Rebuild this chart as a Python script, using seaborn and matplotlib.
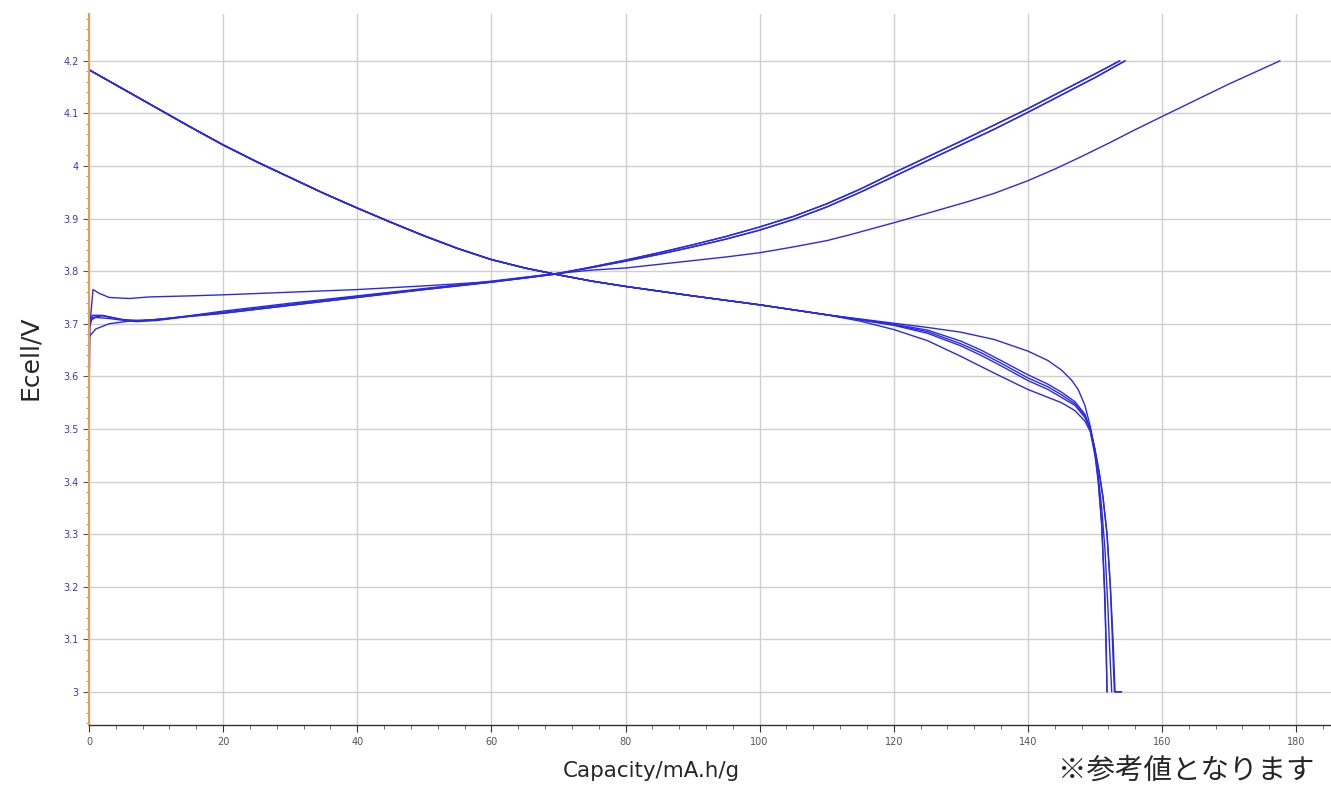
import pandas as pd
import numpy as np
import matplotlib
matplotlib.use('Agg')
import matplotlib.pyplot as plt
import seaborn as sns

# --- discharge curves (capacity mA.h/g, voltage V) ---
# shared part of all discharge curves
dis_common_cap = [0, 5, 10, 15, 20, 25, 30, 35, 40, 45, 50, 55, 60, 65, 70, 75, 80, 90, 100, 110]
dis_common_v = [4.183, 4.147, 4.111, 4.075, 4.040, 4.008, 3.978, 3.948, 3.920, 3.893, 3.867,
                3.843, 3.822, 3.806, 3.793, 3.781, 3.771, 3.753, 3.736, 3.717]

dis1_cap = [115, 120, 125, 130, 135, 140, 143, 145, 146.5, 147.5, 148.5, 149.3, 150, 150.5, 151, 151.4, 151.7, 151.8]
dis1_v = [3.709, 3.701, 3.693, 3.684, 3.670, 3.648, 3.630, 3.612, 3.593, 3.575, 3.545, 3.505, 3.46, 3.40, 3.32, 3.20, 3.08, 3.0]

dis2_cap = [115, 120, 125, 130, 133, 136, 140, 143, 145, 147, 148.5, 149.3, 150, 150.6, 151.2, 151.8, 152.3, 152.6, 152.9, 153.9]
dis2_v = [3.708, 3.698, 3.685, 3.662, 3.645, 3.625, 3.597, 3.580, 3.565, 3.548, 3.525, 3.50, 3.46, 3.42, 3.37, 3.30, 3.20, 3.10, 3.0, 3.0]

dis3_cap = [115, 120, 125, 130, 133, 136, 140, 143, 145, 147, 148.5, 149.3, 150, 150.6, 151.2, 151.8, 152.3, 152.7, 153.0, 154.0]
dis3_v = [3.708, 3.699, 3.688, 3.667, 3.650, 3.630, 3.603, 3.585, 3.570, 3.552, 3.528, 3.50, 3.462, 3.42, 3.37, 3.30, 3.20, 3.10, 3.0, 3.0]

dis4_cap = [115, 120, 125, 130, 133, 136, 140, 143, 145, 147, 148.5, 149.3, 150, 150.5, 151, 151.5, 151.9, 152.2, 152.5]
dis4_v = [3.707, 3.697, 3.682, 3.658, 3.640, 3.620, 3.592, 3.575, 3.560, 3.545, 3.522, 3.50, 3.455, 3.41, 3.35, 3.27, 3.17, 3.08, 3.0]

dis5_cap = [115, 120, 125, 130, 135, 140, 143, 145, 147, 148.5, 149.3, 150, 150.5, 151, 151.5, 151.8]
dis5_v = [3.705, 3.689, 3.668, 3.638, 3.606, 3.575, 3.560, 3.550, 3.535, 3.515, 3.495, 3.45, 3.40, 3.32, 3.18, 3.0]

# --- charge curves ---
chg1_cap = [0, 0.15, 0.6, 1.5, 3, 6, 9, 15, 20, 30, 40, 50, 60, 65, 70, 75, 80, 85, 90, 95, 100,
            105, 110, 113.4, 120, 125, 131, 135, 140, 144, 148, 152, 156, 160, 165, 170, 177.6]
chg1_v = [3.55, 3.70, 3.765, 3.758, 3.750, 3.748, 3.751, 3.753, 3.755, 3.760, 3.765, 3.772, 3.780,
          3.787, 3.796, 3.802, 3.806, 3.813, 3.820, 3.827, 3.835, 3.846, 3.858, 3.869, 3.892,
          3.910, 3.932, 3.948, 3.972, 3.994, 4.018, 4.043, 4.069, 4.094, 4.125, 4.156, 4.200]

chg_top_cap = [75, 80, 85, 90, 95, 100, 105, 110, 115, 120, 125, 130, 135, 140, 145, 150]
chg2_v = [3.807, 3.819, 3.832, 3.846, 3.861, 3.878, 3.898, 3.922, 3.950, 3.980, 4.010, 4.040, 4.070, 4.102, 4.135, 4.168]
chg3_v = [3.808, 3.821, 3.835, 3.850, 3.866, 3.884, 3.904, 3.928, 3.956, 3.987, 4.017, 4.047, 4.078, 4.109, 4.142, 4.175]

chg2_start_cap = [0, 0.5, 2, 4, 7, 10, 15, 20, 30, 40, 50, 60, 70]
chg2_start_v = [3.69, 3.712, 3.715, 3.710, 3.704, 3.706, 3.714, 3.720, 3.735, 3.750, 3.765, 3.779, 3.795]
chg3_start_cap = [0, 0.5, 2, 5, 8, 12, 20, 30, 40, 50, 60, 70]
chg3_start_v = [3.70, 3.716, 3.716, 3.708, 3.706, 3.710, 3.724, 3.739, 3.753, 3.767, 3.781, 3.796]
chg4_start_cap = [0, 1, 3, 6, 10, 20, 30, 40, 50, 60, 70]
chg4_start_v = [3.705, 3.712, 3.710, 3.705, 3.708, 3.722, 3.737, 3.752, 3.766, 3.780, 3.796]
chg5_start_cap = [0, 1, 3, 6, 10, 20, 30, 40, 50, 60, 70]
chg5_start_v = [3.675, 3.690, 3.700, 3.705, 3.708, 3.720, 3.735, 3.750, 3.765, 3.779, 3.795]

chg2_end_cap, chg2_end_v = [154.5], [4.2]
chg3_end_cap, chg3_end_v = [153.7], [4.2]

xticks = [0, 20, 40, 60, 80, 100, 120, 140, 160, 180]
yticks = [3.0, 3.1, 3.2, 3.3, 3.4, 3.5, 3.6, 3.7, 3.8, 3.9, 4.0, 4.1, 4.2]
ytick_labels = ['3', '3.1', '3.2', '3.3', '3.4', '3.5', '3.6', '3.7', '3.8', '3.9', '4', '4.1', '4.2']

# build a long table
curves = {
    'd1': (dis_common_cap + dis1_cap, dis_common_v + dis1_v),
    'd2': (dis_common_cap + dis2_cap, dis_common_v + dis2_v),
    'd3': (dis_common_cap + dis3_cap, dis_common_v + dis3_v),
    'd4': (dis_common_cap + dis4_cap, dis_common_v + dis4_v),
    'd5': (dis_common_cap + dis5_cap, dis_common_v + dis5_v),
    'c1': (chg1_cap, chg1_v),
    'c2': (chg2_start_cap + chg_top_cap + chg2_end_cap, chg2_start_v + chg2_v + chg2_end_v),
    'c3': (chg3_start_cap + chg_top_cap + chg3_end_cap, chg3_start_v + chg3_v + chg3_end_v),
    'c4': (chg4_start_cap + chg_top_cap + chg2_end_cap, chg4_start_v + chg2_v + chg2_end_v),
    'c5': (chg5_start_cap + chg_top_cap + chg3_end_cap, chg5_start_v + chg3_v + chg3_end_v),
}
rows = []
for name, (cx, cy) in curves.items():
    for a, b in zip(cx, cy):
        rows.append((name, a, b))
df = pd.DataFrame(rows, columns=['curve', 'cap', 'volt'])

sns.set_style('white')
plt.rcParams['font.family'] = ['DejaVu Sans', 'Noto Sans CJK JP']

fig = plt.figure(figsize=(13.31, 7.85), dpi=100)
ax = fig.add_axes([89 / 1331, 1 - 725 / 785, (1331 - 89) / 1331, (725 - 14) / 785])

sns.lineplot(data=df, x='cap', y='volt', units='curve', estimator=None, sort=False,
             color='#2a2ae6', linewidth=1.0, ax=ax)

ax.set_xlim(0, 185.2)
ax.set_ylim(2.937, 4.289)
ax.set_xticks(xticks)
ax.set_xticks(np.arange(0, 185, 4), minor=True)
ax.set_yticks(yticks)
ax.set_yticklabels(ytick_labels)
ax.set_yticks(np.arange(2.94, 4.29, 0.02), minor=True)
ax.grid(True, which='major', color='#cfcfcf', linewidth=1.0)
ax.set_axisbelow(True)

ax.tick_params(axis='x', which='major', labelsize=7, labelcolor='#555555', length=5, color='#333333', direction='out')
ax.tick_params(axis='x', which='minor', length=3, color='#555555', direction='out')
ax.tick_params(axis='y', which='major', labelsize=7, labelcolor='#3a3ab8', length=4, color='#555555', direction='out')
ax.tick_params(axis='y', which='minor', length=2, color='#888888', direction='out')
ax.xaxis.set_tick_params(which='both', bottom=True)
ax.yaxis.set_tick_params(which='both', left=True)

for s in ['top', 'right']:
    ax.spines[s].set_visible(False)
ax.spines['left'].set_color('#e0a050')
ax.spines['left'].set_linewidth(1.5)
ax.spines['bottom'].set_color('#333333')
ax.spines['bottom'].set_linewidth(1.0)

ax.set_xlabel('')
ax.set_ylabel('')
fig.text(651 / 1331, 1 - 771 / 785, 'Capacity/mA.h/g', ha='center', va='center', fontsize=15.4)
fig.text(30 / 1331, 1 - 358 / 785, 'Ecell/V', ha='center', va='center', rotation=90, fontsize=18)
fig.text(1058 / 1331, 1 - 771 / 785, '※参考値となります', ha='left', va='center', fontsize=20.5,
         family=['Noto Sans CJK JP', 'DejaVu Sans'])

fig.savefig('out.png', dpi=100)
